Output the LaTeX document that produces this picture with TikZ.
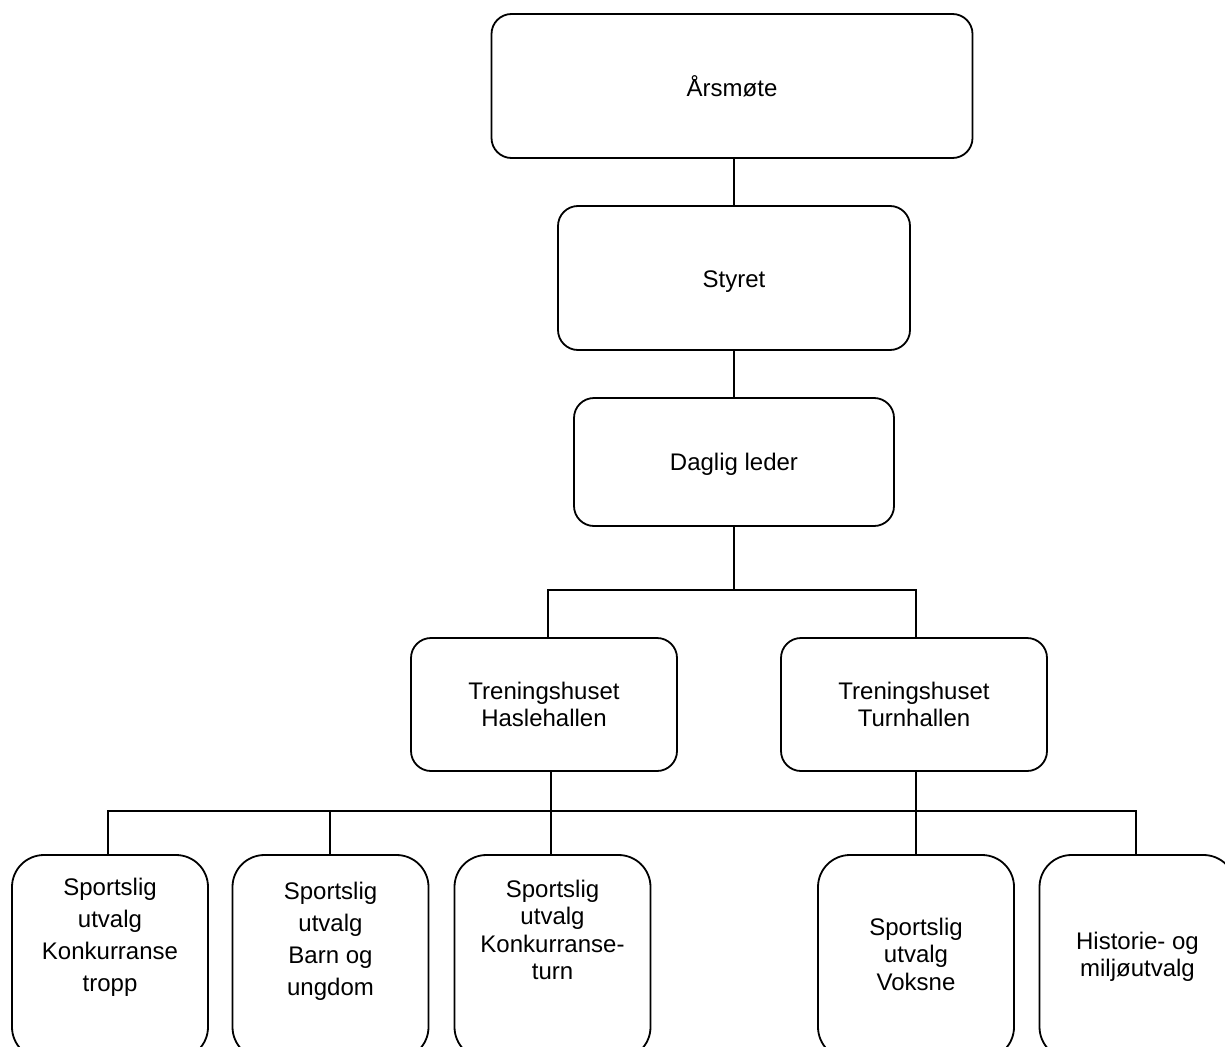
\documentclass[tikz,border=0pt]{standalone}
\usepackage{fontspec}
\setmainfont{Liberation Sans}
\begin{document}
\begin{tikzpicture}[x=1pt,y=-1pt,
  box/.style={draw, line width=1.8pt, rounded corners=20pt, inner sep=0pt, align=center},
  lowbox/.style={draw, line width=1.8pt, rounded corners=32pt, inner sep=0pt, minimum width=196pt, minimum height=204pt},
  txt/.style={align=center, inner sep=0pt},
  wide/.style={font=\fontsize{24}{32}\selectfont},
  thinline/.style={line width=1.5pt},
  midline/.style={line width=2.3pt},
  thickline/.style={line width=2.9pt},
  font=\fontsize{24}{27.5}\selectfont]
\useasboundingbox (0,0) rectangle (1225,1046);
% top chain
\node[box, minimum width=481pt, minimum height=144pt] (ars) at (732,86) {Årsmøte};
\node[box, minimum width=352pt, minimum height=144pt] (sty) at (734,278) {};
\node[txt] (styt) at (734,282) {Styret};
\node[box, minimum width=320pt, minimum height=128pt] (dag) at (734,462) {};
\node[txt] (dagt) at (734,464) {Daglig leder};
\node[box, minimum width=266pt, minimum height=133pt] (has) at (544,704.5) {Treningshuset\\Haslehallen};
\node[box, minimum width=266pt, minimum height=133pt] (tur) at (914,704.5) {Treningshuset\\Turnhallen};
% bottom boxes
\node[lowbox] (s1) at (110,957) {};
\node[lowbox] (s2) at (330.5,957) {};
\node[lowbox] (s3) at (552.5,957) {};
\node[lowbox] (s4) at (916,957) {};
\node[lowbox] (s5) at (1137.5,957) {};
\node[txt, wide] (t1) at (110,937) {Sportslig\\utvalg\\Konkurranse\\tropp};
\node[txt, wide] (t2) at (330.5,941) {Sportslig\\utvalg\\Barn og\\ungdom};
\node[txt] (t3) at (552.5,930) {Sportslig\\utvalg\\Konkurranse-\\turn};
\node[txt] (t4) at (916,954) {Sportslig\\utvalg\\Voksne};
\node[txt] (t5) at (1137.5,957) {Historie- og\\miljøutvalg};
% coordinates
\coordinate (b1) at (734,590);
\coordinate (bL) at (548,590);
\coordinate (bR) at (916,590);
\coordinate (cL) at (108,811);
\coordinate (c2) at (330,811);
\coordinate (c3) at (551,811);
\coordinate (cR) at (1136,811);
% connectors
\draw[thinline] (sty.north |- ars.south) -- (sty.north);
\draw[thinline] (sty.south) -- (dag.north);
\draw[thinline] (dag.south) -- (b1);
\draw[midline] (bL |- has.north) -- (bL) -- (bR) -- (bR |- tur.north);
\draw[midline] (cL |- s1.north) -- (cL) -- (cR) -- (cR |- s5.north);
\draw[midline] (c2) -- (c2 |- s2.north);
\draw[thinline] (c3 |- has.south) -- (c3 |- s3.north);
\draw[thickline] (s4.north |- tur.south) -- (s4.north);
\end{tikzpicture}
\end{document}
